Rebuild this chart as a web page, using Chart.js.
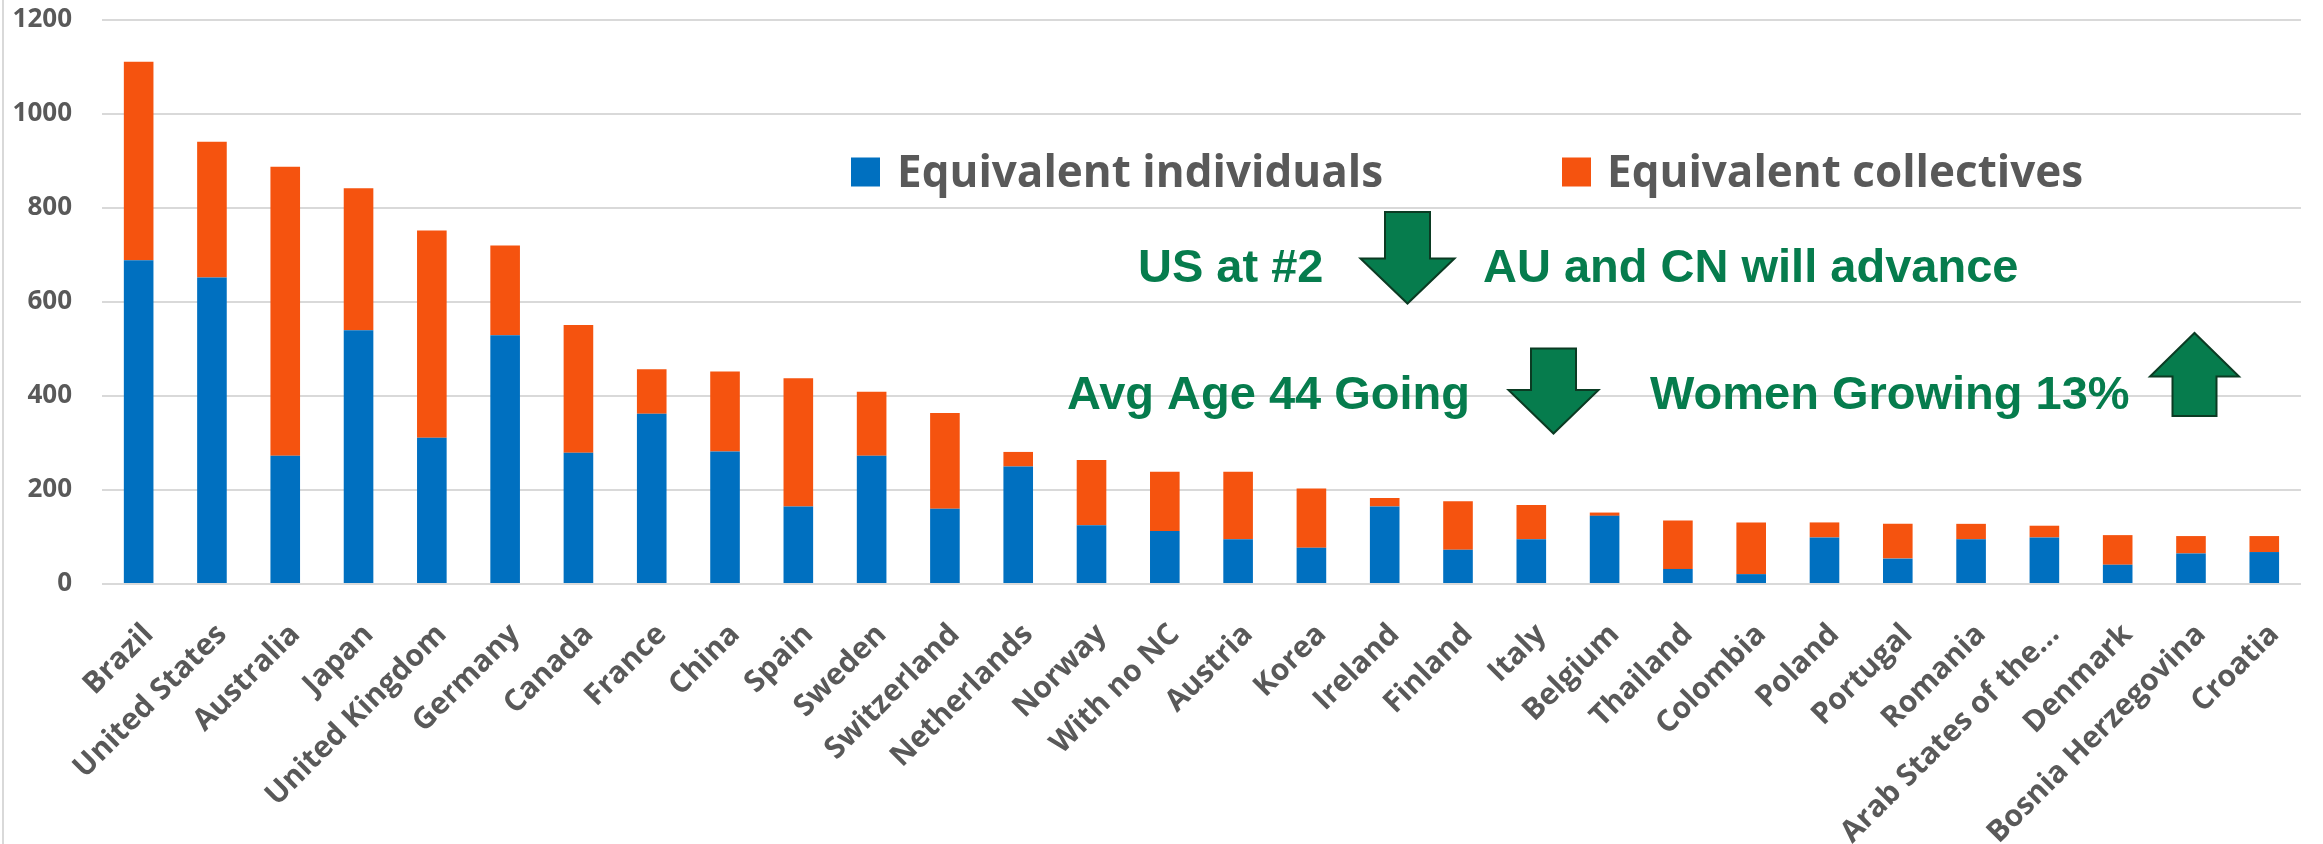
<!DOCTYPE html>
<html>
<head>
<meta charset="utf-8">
<script src="https://cdn.jsdelivr.net/npm/chart.js@4.4.1/dist/chart.umd.min.js"></script>
<style>
html,body{margin:0;padding:0;background:#ffffff;}
#wrap{width:2323px;height:844px;position:relative;}
</style>
</head>
<body>
<div id="wrap"><canvas id="c"></canvas></div>
<script>
const categories = ['Brazil','United States','Australia','Japan','United Kingdom','Germany','Canada','France','China','Spain','Sweden','Switzerland','Netherlands','Norway','With no NC','Austria','Korea','Ireland','Finland','Italy','Belgium','Thailand','Colombia','Poland','Portugal','Romania','Arab States of the...','Denmark','Bosnia Herzegovina','Croatia'];
const individuals = [689,652,273,540,311,529,279,362,282,165,273,160,250,125,113,95,77,165,73,95,145,32,21,99,54,95,99,41,65,68];
const collectives = [422,289,615,302,441,191,272,95,170,273,136,204,31,139,126,144,126,18,103,73,7,103,110,32,74,33,25,63,37,34];
const yTicks = [0,200,400,600,800,1000,1200];
const seriesNames = ['Equivalent individuals','Equivalent collectives'];
const notes = ['US at #2','AU and CN will advance','Avg Age 44 Going','Women Growing 13%'];

const BLUE = '#0070C0';
const ORANGE = '#F5530F';
const GREEN = '#067C4D';
const GREEN_EDGE = '#0B3B23';
const GRAY = '#595959';

function drawArrow(ctx, cx, shaftHalf, headHalf, yBase, yNeck, yTip){
  ctx.beginPath();
  ctx.moveTo(cx - shaftHalf, yBase);
  ctx.lineTo(cx - shaftHalf, yNeck);
  ctx.lineTo(cx - headHalf, yNeck);
  ctx.lineTo(cx, yTip);
  ctx.lineTo(cx + headHalf, yNeck);
  ctx.lineTo(cx + shaftHalf, yNeck);
  ctx.lineTo(cx + shaftHalf, yBase);
  ctx.closePath();
  ctx.fillStyle = GREEN;
  ctx.fill();
  ctx.lineWidth = 2;
  ctx.strokeStyle = GREEN_EDGE;
  ctx.stroke();
}

const decorPlugin = {
  id: 'decor',
  beforeDraw(chart){
    const ctx = chart.ctx;
    ctx.save();
    ctx.fillStyle = '#ffffff';
    ctx.fillRect(0,0,chart.width,chart.height);
    ctx.strokeStyle = '#D9D9D9';
    ctx.lineWidth = 2;
    ctx.beginPath();
    ctx.moveTo(3,0); ctx.lineTo(3,chart.height);
    ctx.stroke();
    ctx.restore();
  },
  afterDraw(chart){
    const ctx = chart.ctx;
    ctx.save();
    // legend
    const ds = chart.data.datasets;
    const legendPos = [{box:851, text:897},{box:1562, text:1607}];
    ctx.font = 'bold 44px "Open Sans"';
    ctx.textBaseline = 'alphabetic';
    ctx.textAlign = 'left';
    ds.forEach((d,i)=>{
      ctx.fillStyle = d.backgroundColor;
      ctx.fillRect(legendPos[i].box, 157.5, 29, 29);
      ctx.fillStyle = GRAY;
      ctx.fillText(d.label, legendPos[i].text, 186.5);
    });
    // annotations
    ctx.font = 'bold 47px "Liberation Sans"';
    ctx.fillStyle = GREEN;
    ctx.fillText(notes[0], 1138, 282);
    ctx.fillText(notes[1], 1483, 282);
    ctx.fillText(notes[2], 1067, 408.5);
    ctx.fillText(notes[3], 1650, 408.5);
    drawArrow(ctx, 1407.5, 22.5, 47, 212, 258.5, 303.5);
    drawArrow(ctx, 1553.5, 22.5, 45, 348.5, 390, 433.5);
    drawArrow(ctx, 2194.5, 22, 44.5, 416, 376.5, 333);
    ctx.restore();
  }
};

new Chart(document.getElementById('c'), {
  type: 'bar',
  data: {
    labels: categories,
    datasets: [
      {label: seriesNames[0], data: individuals, backgroundColor: BLUE, borderWidth: 0, barPercentage: 0.404, categoryPercentage: 1.0},
      {label: seriesNames[1], data: collectives, backgroundColor: ORANGE, borderWidth: 0, barPercentage: 0.404, categoryPercentage: 1.0}
    ]
  },
  options: {
    responsive: true,
    maintainAspectRatio: false,
    animation: false,
    layout: {padding: {top: 20, right: 16, left: 0, bottom: 0}},
    plugins: {legend: {display: false}, tooltip: {enabled: false}},
    scales: {
      x: {
        stacked: true,
        grid: {display: false, drawTicks: false},
        border: {display: false},
        ticks: {
          autoSkip: false, maxRotation: 45, minRotation: 45, padding: 33, labelOffset: 10,
          color: GRAY, font: {family: '"Open Sans"', weight: 'bold', size: 30}
        },
        afterFit(s){ s.height = 260; }
      },
      y: {
        stacked: true,
        min: 0, max: 1200,
        afterBuildTicks(s){ s.ticks = yTicks.map(v=>({value:v})); },
        grid: {color: '#D9D9D9', lineWidth: 2, drawTicks: true, tickLength: 30, tickColor: 'rgba(0,0,0,0)'},
        border: {display: false},
        ticks: {padding: 0, color: GRAY, font: {family: '"Open Sans"', weight: 'bold', size: 26},
          callback: (v)=>String(v)},
        afterFit(s){ s.width = 102; }
      }
    }
  },
  plugins: [decorPlugin]
});
</script>
</body>
</html>
